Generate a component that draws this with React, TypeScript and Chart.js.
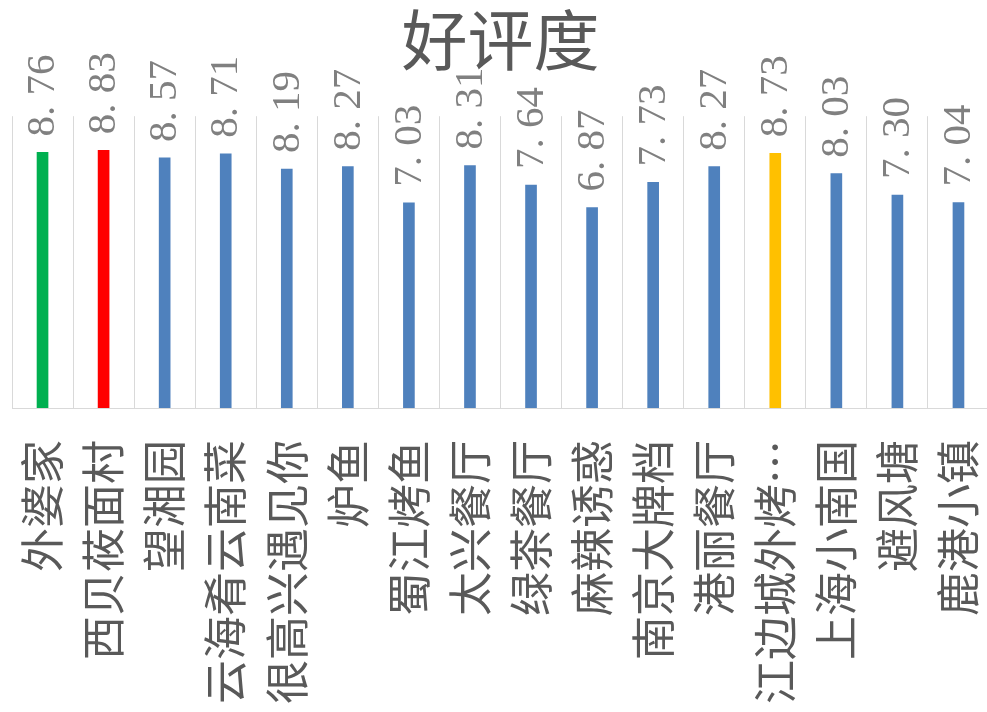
import React, { useEffect, useRef } from "react";
import { Chart, registerables } from "chart.js";

Chart.register(...registerables);

const categories = [
  "外婆家", "西贝莜面村", "望湘园", "云海肴云南菜", "很高兴遇见你", "炉鱼",
  "蜀江烤鱼", "太兴餐厅", "绿茶餐厅", "麻辣诱惑", "南京大牌档", "港丽餐厅",
  "江边城外烤…", "上海小南国", "避风塘", "鹿港小镇",
];
const ratings = [8.76, 8.83, 8.57, 8.71, 8.19, 8.27, 7.03, 8.31, 7.64, 6.87, 7.73, 8.27, 8.73, 8.03, 7.30, 7.04];
const barColors = [
  "#00b050", "#ff0000", "#4f81bd", "#4f81bd", "#4f81bd", "#4f81bd", "#4f81bd", "#4f81bd",
  "#4f81bd", "#4f81bd", "#4f81bd", "#4f81bd", "#ffc000", "#4f81bd", "#4f81bd", "#4f81bd",
];
const titleText = "好评度";

const valueLabels = {
  id: "valueLabels",
  afterDatasetsDraw(chart: any) {
    const ctx = chart.ctx;
    const meta = chart.getDatasetMeta(0);
    ctx.save();
    ctx.font = '41px "Liberation Serif", "DejaVu Serif", serif';
    ctx.fillStyle = "#808080";
    ctx.textAlign = "left";
    ctx.textBaseline = "middle";
    meta.data.forEach((bar: any, i: number) => {
      const v = ratings[i].toFixed(2).replace(".", ". ");
      ctx.save();
      ctx.translate(bar.x + 1, bar.y - 16);
      ctx.rotate(-Math.PI / 2);
      ctx.fillText(v, 0, 0);
      ctx.restore();
    });
    ctx.restore();
  },
};

export default function App() {
  const ref = useRef<HTMLCanvasElement>(null);
  useEffect(() => {
    if (!ref.current) return;
    const chart = new Chart(ref.current, {
      type: "bar",
      data: {
        labels: categories,
        datasets: [
          {
            data: ratings,
            backgroundColor: barColors,
            barThickness: 11,
          },
        ],
      },
      options: {
        animation: false,
        responsive: false,
        devicePixelRatio: 1,
        layout: { padding: { left: 12, right: 1, top: 0, bottom: 0 } },
        plugins: {
          legend: { display: false },
          tooltip: { enabled: false },
          title: {
            display: true,
            text: titleText,
            color: "#595959",
            font: { family: '"Noto Sans CJK SC", sans-serif', size: 66, weight: "normal" },
            padding: { top: 0, bottom: 37 },
          },
        },
        scales: {
          x: {
            grid: { color: "#d9d9d9", drawTicks: false, offset: true },
            border: { color: "#d9d9d9" },
            ticks: {
              autoSkip: false,
              minRotation: 90,
              maxRotation: 90,
              padding: 32,
              color: "#595959",
              font: { family: '"Noto Sans CJK SC", sans-serif', size: 44 },
            },
            afterFit(scale: any) {
              scale.height = 304;
              scale.paddingLeft = 0;
              scale.paddingRight = 0;
            },
          },
          y: {
            display: false,
            min: 0,
            max: 10,
          },
        },
      },
      plugins: [valueLabels],
    });
    return () => chart.destroy();
  }, []);
  return (
    <div style={{ position: "fixed", left: 0, top: 0, width: 987, height: 712, overflow: "hidden", background: "#fff" }}>
      <canvas ref={ref} width={990} height={712} style={{ display: "block" }} />
    </div>
  );
}
